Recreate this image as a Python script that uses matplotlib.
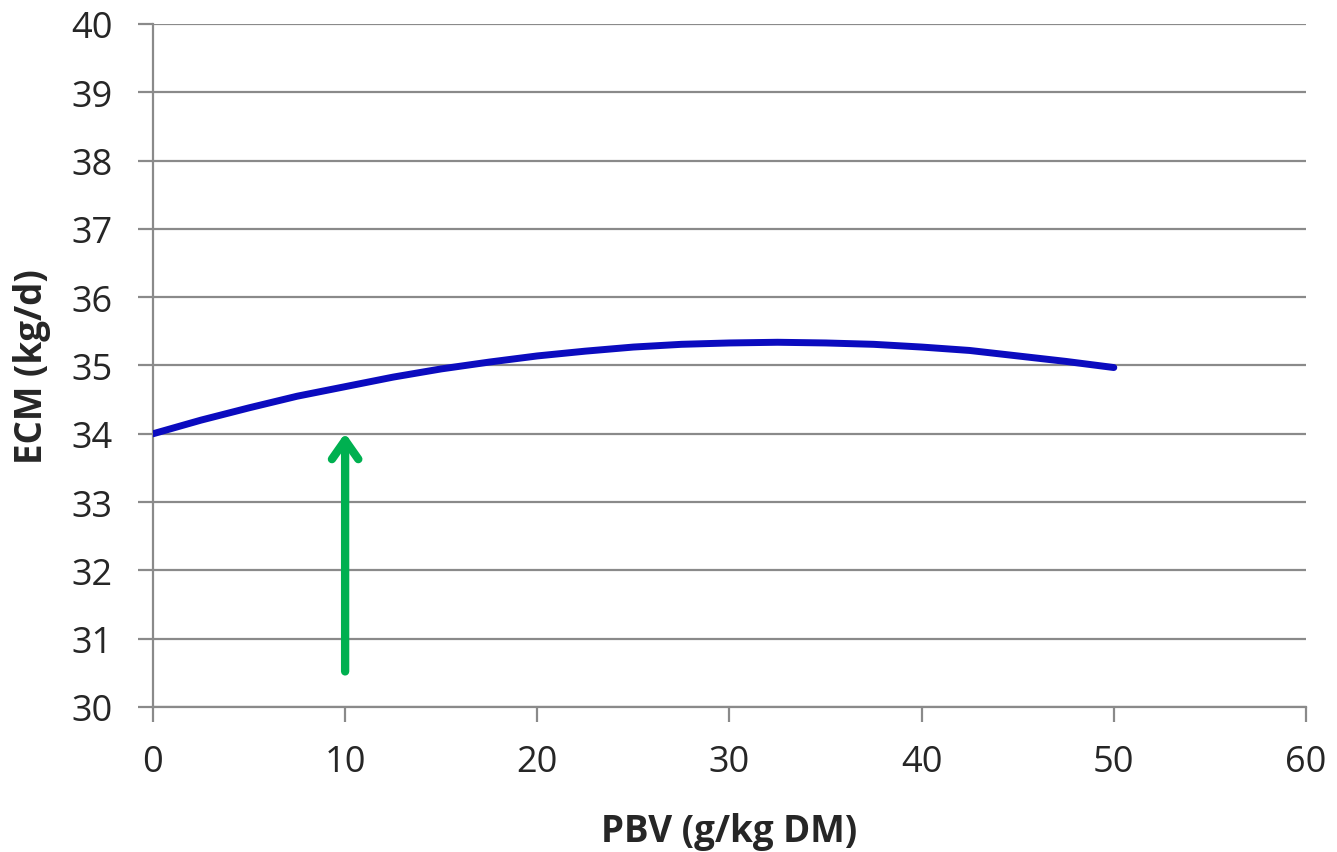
import matplotlib
matplotlib.use("Agg")
import matplotlib.pyplot as plt

# ─────────────────────────────────────────
# DATA
# ─────────────────────────────────────────
pbv = [0, 2.5, 5, 7.5, 10, 12.5, 15, 17.5, 20, 22.5, 25, 27.5, 30,
       32.5, 35, 37.5, 40, 42.5, 45, 47.5, 50]
ecm = [34.00, 34.20, 34.38, 34.55, 34.69, 34.83, 34.95, 35.05, 35.14,
       35.21, 35.27, 35.31, 35.33, 35.34, 35.33, 35.31, 35.27, 35.22,
       35.14, 35.06, 34.97]

arrow_x = 10
arrow_from = 30.48
arrow_to = 34.05

xticks = [0, 10, 20, 30, 40, 50, 60]
yticks = [30, 31, 32, 33, 34, 35, 36, 37, 38, 39, 40]

# ─────────────────────────────────────────
# PLOT
# ─────────────────────────────────────────
plt.rcParams["font.family"] = ["Open Sans", "DejaVu Sans"]
grid_col = "#8a8a8a"
text_col = "#262626"

fig = plt.figure(figsize=(13.37, 8.53), dpi=100)
ax = fig.add_axes([0.1144, 0.170, 0.8624, 0.8007])

ax.plot(pbv, ecm, color="#0b0bbf", lw=5, solid_capstyle="round",
        solid_joinstyle="round", zorder=3)

# open green arrow pointing at the curve
ax.annotate("", xy=(arrow_x, arrow_to), xytext=(arrow_x, arrow_from),
            arrowprops=dict(arrowstyle="->,head_length=1.35,head_width=0.95",
                            color="#00b050", lw=6, capstyle="round",
                            joinstyle="round"),
            zorder=4)

ax.set_xlim(0, 60)
ax.set_ylim(30, 40)
ax.set_xticks(xticks)
ax.set_yticks(yticks)
ax.yaxis.grid(True, color=grid_col, lw=1.6)
ax.set_axisbelow(True)

for s in ["top", "right"]:
    ax.spines[s].set_visible(False)
for s in ["left", "bottom"]:
    ax.spines[s].set_color(grid_col)
    ax.spines[s].set_linewidth(1.6)

ax.tick_params(axis="both", direction="out", length=11, width=1.6,
               color=grid_col, labelsize=26, labelcolor=text_col)
ax.tick_params(axis="y", pad=18)
ax.tick_params(axis="x", pad=16)

ax.set_xlabel("PBV (g/kg DM)", fontsize=26.5, fontweight="bold",
              color=text_col, va="center")
ax.set_ylabel("ECM (kg/d)", fontsize=26.5, fontweight="bold",
              color=text_col, va="center")
ax.xaxis.set_label_coords(0.5, -0.182)
ax.yaxis.set_label_coords(-0.105, 0.5)

plt.savefig("out.png", dpi=100)
